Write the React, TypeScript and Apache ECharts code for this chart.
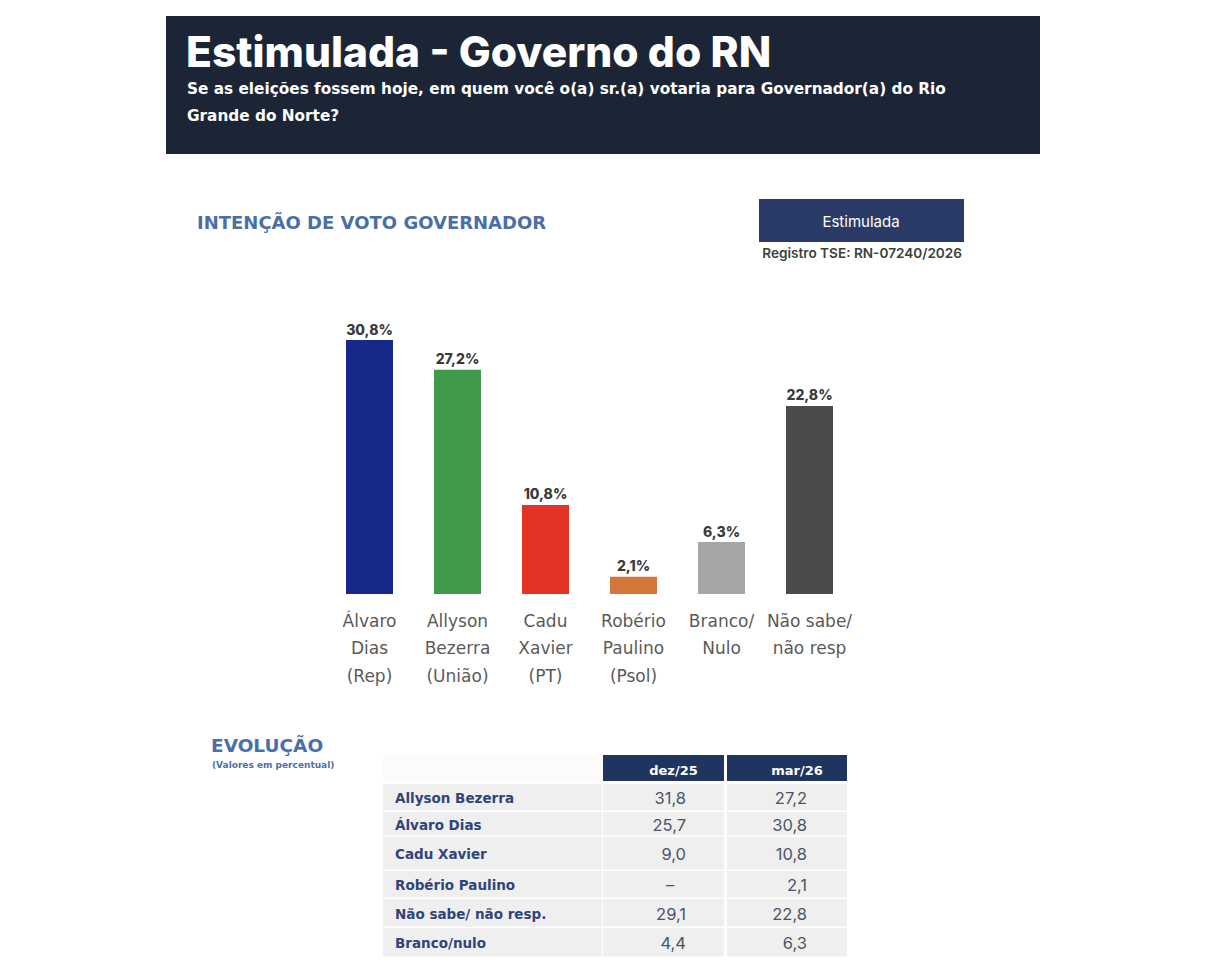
import React, { useEffect, useRef } from "react";
import * as echarts from "echarts";

// ---- data ----
const categories = [
  "Álvaro\nDias\n(Rep)",
  "Allyson\nBezerra\n(União)",
  "Cadu\nXavier\n(PT)",
  "Robério\nPaulino\n(Psol)",
  "Branco/\nNulo",
  "Não sabe/\nnão resp",
];
const values = [30.8, 27.2, 10.8, 2.1, 6.3, 22.8];
const barColors = ["#16298a", "#41994a", "#e33324", "#d4763a", "#a5a5a5", "#4b4b4b"];

const tableColumns = ["dez/25", "mar/26"];
const tableRows = [
  "Allyson Bezerra",
  "Álvaro Dias",
  "Cadu Xavier",
  "Robério Paulino",
  "Não sabe/ não resp.",
  "Branco/nulo",
];
const dez25: (number | null)[] = [31.8, 25.7, 9.0, null, 29.1, 4.4];
const mar26: (number | null)[] = [27.2, 30.8, 10.8, 2.1, 22.8, 6.3];

const fmt = (v: number | null) => (v == null ? "–" : v.toFixed(1).replace(".", ","));

// ---- layout (styles / positions) ----
const FONT = "Inter, 'Noto Sans', sans-serif";
const WIDE = "'DejaVu Sans', 'Noto Sans', sans-serif";
const rowEdges = [783, 811, 836, 870, 898, 927, 957];
const colEdges = [383, 602, 603, 724, 727, 847];

export default function App() {
  const ref = useRef<HTMLDivElement>(null);

  useEffect(() => {
    if (!ref.current) return;
    const chart = echarts.init(ref.current, undefined, { renderer: "svg" });

    const graphics: any[] = [
      {
        type: "rect",
        shape: { x: 166, y: 16, width: 874, height: 138 },
        style: { fill: "#1c2536" },
      },
      {
        type: "text",
        x: 186,
        y: 51,
        style: {
          text: "Estimulada - Governo do RN",
          fill: "#ffffff",
          font: `800 42.5px ${FONT}`,
          verticalAlign: "middle",
        },
      },
      {
        type: "text",
        x: 187,
        y: 89,
        style: {
          text: "Se as eleições fossem hoje, em quem você o(a) sr.(a) votaria para Governador(a) do Rio",
          fill: "#ffffff",
          font: `bold 15.3px ${WIDE}`,
          verticalAlign: "middle",
        },
      },
      {
        type: "text",
        x: 187,
        y: 116,
        style: {
          text: "Grande do Norte?",
          fill: "#ffffff",
          font: `bold 15.3px ${WIDE}`,
          verticalAlign: "middle",
        },
      },
      {
        type: "text",
        x: 197,
        y: 222,
        style: {
          text: "INTENÇÃO DE VOTO GOVERNADOR",
          fill: "#4a6fa8",
          font: `bold 18px ${WIDE}`,
          verticalAlign: "middle",
        },
      },
      {
        type: "rect",
        shape: { x: 759, y: 199, width: 205, height: 43 },
        style: { fill: "#2b3b68" },
      },
      {
        type: "text",
        x: 861,
        y: 221,
        style: {
          text: "Estimulada",
          fill: "#ffffff",
          font: `400 15px ${FONT}`,
          align: "center",
          verticalAlign: "middle",
        },
      },
      {
        type: "text",
        x: 962,
        y: 253,
        style: {
          text: "Registro TSE: RN-07240/2026",
          fill: "#3a4438",
          font: `600 13.6px ${FONT}`,
          align: "right",
          verticalAlign: "middle",
        },
      },
      {
        type: "text",
        x: 211,
        y: 745,
        style: {
          text: "EVOLUÇÃO",
          fill: "#4a6fa8",
          font: `bold 18.5px ${WIDE}`,
          verticalAlign: "middle",
        },
      },
      {
        type: "text",
        x: 212,
        y: 765,
        style: {
          text: "(Valores em percentual)",
          fill: "#4a6fa8",
          font: `bold 9px ${WIDE}`,
          verticalAlign: "middle",
        },
      },
      {
        type: "rect",
        shape: { x: colEdges[0], y: 755, width: colEdges[1] - colEdges[0], height: 26 },
        style: { fill: "#fbfbfb" },
      },
    ];

    const colX = [
      [colEdges[2], colEdges[3]],
      [colEdges[4], colEdges[5]],
    ];
    const valueRight = [686, 807];

    tableColumns.forEach((c, i) => {
      graphics.push({
        type: "rect",
        shape: { x: colX[i][0], y: 755, width: colX[i][1] - colX[i][0], height: 26 },
        style: { fill: "#1f3560" },
      });
      graphics.push({
        type: "text",
        x: (colX[i][0] + colX[i][1]) / 2 + 10,
        y: 770,
        style: {
          text: c,
          fill: "#ffffff",
          font: `bold 13px ${WIDE}`,
          align: "center",
          verticalAlign: "middle",
        },
      });
    });

    tableRows.forEach((name, r) => {
      const y0 = rowEdges[r];
      const y1 = rowEdges[r + 1];
      const yc = (y0 + y1) / 2 + 1;
      graphics.push({
        type: "rect",
        shape: { x: colEdges[0], y: y0 + 1, width: colEdges[1] - colEdges[0], height: y1 - y0 - 1.5 },
        style: { fill: "#efefef" },
      });
      colX.forEach((cx) => {
        graphics.push({
          type: "rect",
          shape: { x: cx[0], y: y0 + 1, width: cx[1] - cx[0], height: y1 - y0 - 1.5 },
          style: { fill: "#efefef" },
        });
      });
      graphics.push({
        type: "text",
        x: 395,
        y: yc,
        style: {
          text: name,
          fill: "#2f4479",
          font: `bold 13.5px ${WIDE}`,
          verticalAlign: "middle",
        },
      });
      [dez25[r], mar26[r]].forEach((v, i) => {
        graphics.push({
          type: "text",
          x: v == null ? 670 : valueRight[i],
          y: yc,
          style: {
            text: fmt(v),
            fill: "#4a5468",
            font: `400 16.5px ${FONT}`,
            align: v == null ? "center" : "right",
            verticalAlign: "middle",
          },
        });
      });
    });

    chart.setOption({
      animation: false,
      backgroundColor: "#ffffff",
      grid: { left: 325.5, right: 352.5, top: 305.4, bottom: 381 },
      xAxis: {
        type: "category",
        data: categories,
        axisLine: { show: false },
        axisTick: { show: false },
        axisLabel: {
          interval: 0,
          margin: 13,
          color: "#5a5a5a",
          fontFamily: WIDE,
          fontSize: 17,
          lineHeight: 27.5,
          align: "center",
        },
      },
      yAxis: {
        type: "value",
        min: 0,
        max: 35,
        show: false,
        splitLine: { show: false },
      },
      series: [
        {
          type: "bar",
          barWidth: 47,
          data: values.map((v, i) => ({ value: v, itemStyle: { color: barColors[i] } })),
          label: {
            show: true,
            position: "top",
            distance: 4,
            formatter: (p: any) => p.value.toFixed(1).replace(".", ",") + "%",
            color: "#3a3a3a",
            fontFamily: FONT,
            fontWeight: 800,
            fontSize: 14,
          },
        },
      ],
      graphic: graphics,
    });

    return () => chart.dispose();
  }, []);

  return (
    <div
      ref={ref}
      style={{ position: "absolute", left: 0, top: 0, width: 1206, height: 975 }}
    />
  );
}
